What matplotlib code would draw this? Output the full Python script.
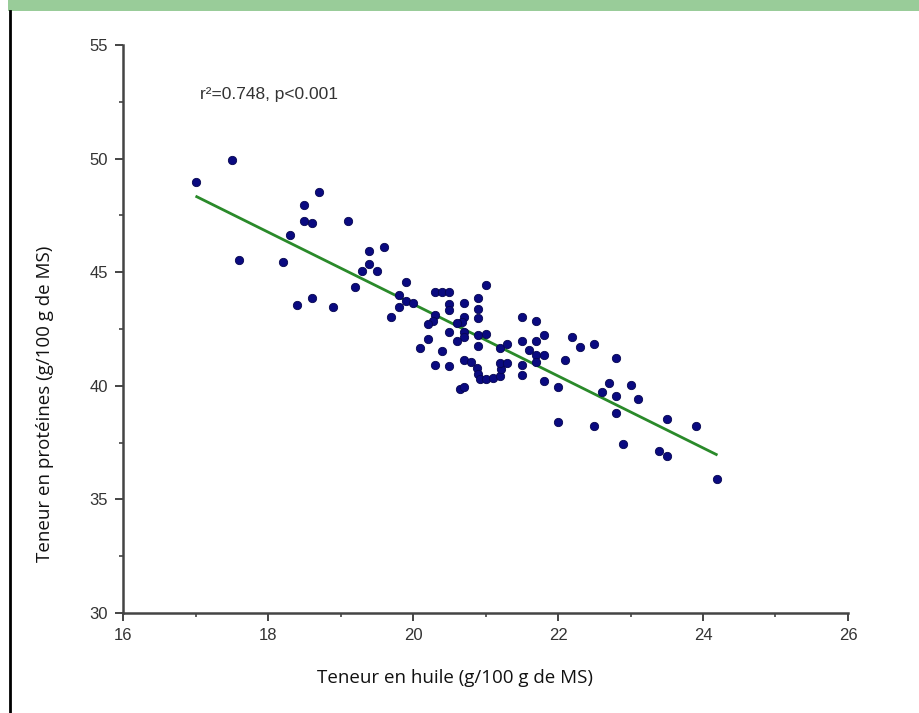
import matplotlib
matplotlib.use("Agg")
import matplotlib.pyplot as plt
from matplotlib.patches import Rectangle
from matplotlib.lines import Line2D
from matplotlib.ticker import MultipleLocator

# ---- data ----
oil = [17.0, 17.5, 17.6, 18.2, 18.3, 18.4, 18.5, 18.5, 18.6, 18.6,
       18.7, 18.9, 19.1, 19.2, 19.4, 19.6, 19.3, 19.4, 19.5, 19.9,
       19.8, 19.9, 20.0, 19.8, 19.7,
       20.3, 20.4, 20.5, 20.5, 20.5, 20.7, 20.3, 20.28, 20.2, 20.7,
       20.68, 20.6, 20.5, 20.7, 20.7, 20.6, 20.9, 20.9, 20.9, 21.0,
       20.9, 21.0, 20.9, 20.2, 20.1, 20.4, 20.3, 20.5, 20.7, 20.8,
       20.88, 20.9, 20.92, 21.0, 21.1, 21.2, 21.22, 21.2, 21.3, 21.2,
       21.3, 20.65, 20.7, 21.5, 21.7, 21.8, 21.5, 21.7, 21.6, 21.7,
       21.8, 21.7, 21.5, 21.5, 21.8, 22.0, 22.1, 22.2, 22.3, 22.5,
       22.8, 22.7, 22.6, 23.0, 22.8, 23.1, 22.8, 22.0, 22.5, 22.9,
       23.5, 23.9, 23.4, 23.5, 24.2]
protein = [48.95, 49.95, 45.55, 45.45, 46.65, 43.55, 47.95, 47.25, 47.15, 43.85,
           48.55, 43.45, 47.25, 44.35, 45.95, 46.1, 45.05, 45.35, 45.05, 44.55,
           44.0, 43.75, 43.65, 43.45, 43.05,
           44.15, 44.15, 44.15, 43.6, 43.35, 43.65, 43.1, 42.85, 42.72, 43.05,
           42.83, 42.75, 42.35, 42.35, 42.15, 41.95, 43.85, 43.4, 42.97, 44.45,
           42.25, 42.3, 41.75, 42.08, 41.65, 41.55, 40.93, 40.86, 41.13, 41.03,
           40.8, 40.5, 40.3, 40.3, 40.33, 40.45, 40.75, 41.0, 41.0, 41.68,
           41.82, 39.88, 39.95, 43.04, 42.85, 42.24, 41.95, 41.95, 41.58, 41.36,
           41.36, 41.06, 40.93, 40.46, 40.22, 39.96, 41.14, 42.15, 41.72, 41.84,
           41.24, 40.14, 39.74, 40.04, 39.53, 39.43, 38.82, 38.42, 38.23, 37.43,
           38.53, 38.23, 37.14, 36.93, 35.9]
fit_x = [17.0, 24.2]
fit_y = [48.35, 36.95]
x_ticks = [16, 18, 20, 22, 24, 26]
y_ticks = [30, 35, 40, 45, 50, 55]
stat_text = "r²=0.748, p<0.001"
x_label = "Teneur en huile (g/100 g de MS)"
y_label = "Teneur en protéines (g/100 g de MS)"

W, H = 920, 713
fig = plt.figure(figsize=(W / 100, H / 100), dpi=100)
fig.patch.set_facecolor("white")

# header band and left border
fig.patches.append(Rectangle((8 / W, 1 - 11 / H), 1 - 8 / W, 11 / H,
                             transform=fig.transFigure, facecolor="#99cc99",
                             edgecolor="none", zorder=0))
fig.lines.append(Line2D([10 / W, 10 / W], [0, 1 - 11 / H], transform=fig.transFigure,
                        color="black", linewidth=2.0))

ax = fig.add_axes([123 / W, 1 - 613 / H, (848 - 123) / W, (613 - 45) / H])
ax.set_xlim(16, 26)
ax.set_ylim(30, 55)

ax.scatter(oil, protein, s=36, color="#0a0a80", edgecolors="#060650",
           linewidths=0.6, zorder=3, clip_on=False)
ax.plot(fit_x, fit_y, color="#2a8a2a", linewidth=2.0, zorder=2,
        solid_capstyle="butt")

for s in ["top", "right"]:
    ax.spines[s].set_visible(False)
for s in ["left", "bottom"]:
    ax.spines[s].set_color("#444444")
    ax.spines[s].set_linewidth(1.8)

ax.set_xticks(x_ticks)
ax.set_yticks(y_ticks)
ax.xaxis.set_minor_locator(MultipleLocator(1))
ax.yaxis.set_minor_locator(MultipleLocator(2.5))
ax.tick_params(which="major", direction="out", length=6, width=1.4,
               color="#444444", labelsize=12, labelcolor="#333333", pad=5)
ax.tick_params(which="minor", direction="out", length=3, width=1.2,
               color="#444444")
for lab in ax.get_xticklabels() + ax.get_yticklabels():
    lab.set_family(["Liberation Sans", "DejaVu Sans"])

ax.text(17.06, 52.8, stat_text, fontsize=12.5, color="#333333",
        family=["Liberation Sans", "DejaVu Sans"], ha="left", va="center")

fig.text(455 / W, 1 - 678 / H, x_label, fontsize=13.5, color="#111111",
         family=["Open Sans", "DejaVu Sans"], ha="center", va="center")
fig.text(45 / W, 1 - 404 / H, y_label, fontsize=13.5, color="#111111",
         family=["Open Sans", "DejaVu Sans"], ha="center", va="center",
         rotation=90)

fig.savefig("out.png", dpi=100, facecolor="white")
